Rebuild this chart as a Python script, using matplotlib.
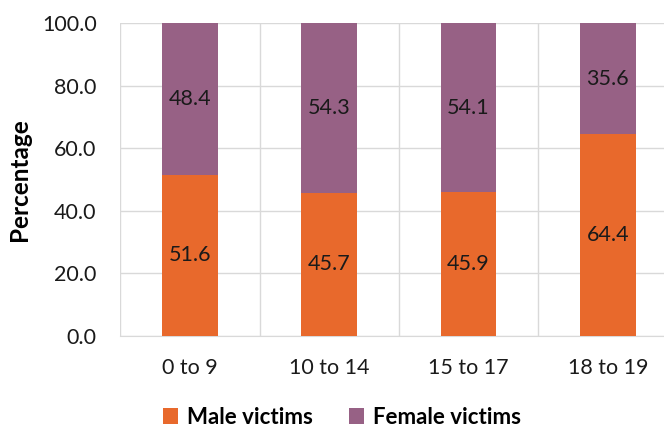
import matplotlib
matplotlib.use("Agg")
import matplotlib.pyplot as plt
import numpy as np

categories = ["0 to 9", "10 to 14", "15 to 17", "18 to 19"]
male = [51.6, 45.7, 45.9, 64.4]
female = [48.4, 54.3, 54.1, 35.6]
yticks = [0, 20, 40, 60, 80, 100]

plt.rcParams['font.family'] = ['Lato', 'DejaVu Sans']
fig = plt.figure(figsize=(6.64, 4.28), dpi=100)
ax = fig.add_axes([120.3 / 664, 0.215, 557.2 / 664, 0.731])

c_m = "#E8692C"
c_f = "#976185"
x = np.arange(len(categories))
w = 0.4
bm = ax.bar(x, male, w, color=c_m, label="Male victims", zorder=3)
bf = ax.bar(x, female, w, bottom=male, color=c_f, label="Female victims", zorder=3)

fs = 15.5
for i in range(len(categories)):
    ax.text(x[i], male[i] / 2, f"{male[i]:.1f}", ha='center', va='center', fontsize=fs, color='#1a1a1a', zorder=4)
    ax.text(x[i], male[i] + female[i] / 2, f"{female[i]:.1f}", ha='center', va='center', fontsize=fs, color='#1a1a1a', zorder=4)

ax.set_xlim(-0.5, len(categories) - 0.5)
ax.set_ylim(0, 100)
ax.set_yticks(yticks)
ax.set_yticklabels([f"{v:.1f}" for v in yticks], fontsize=fs)
ax.set_xticks(x)
ax.set_xticklabels(categories, fontsize=fs)
ax.tick_params(axis='both', length=0, colors='#1a1a1a')
ax.tick_params(axis='x', pad=16)
ax.tick_params(axis='y', pad=17)

ax.grid(axis='y', color='#d9d9d9', linewidth=1, zorder=0)
for b in np.arange(-0.5, len(categories), 1.0):
    ax.axvline(b, color='#d9d9d9', linewidth=1, zorder=0)
for s in ['top', 'right', 'left']:
    ax.spines[s].set_visible(False)
ax.spines['bottom'].set_color('#d9d9d9')

ax.set_ylabel("Percentage", fontsize=17.5, fontweight='bold', labelpad=8)

leg = fig.legend(handles=[bm, bf], loc='center', bbox_to_anchor=(0.515, 0.025), ncol=2, frameon=False,
                 prop={'size': 16, 'weight': 'bold'}, handlelength=0.7, handleheight=0.7,
                 handletextpad=0.4, columnspacing=1.6)

fig.savefig("out.png", dpi=100)
